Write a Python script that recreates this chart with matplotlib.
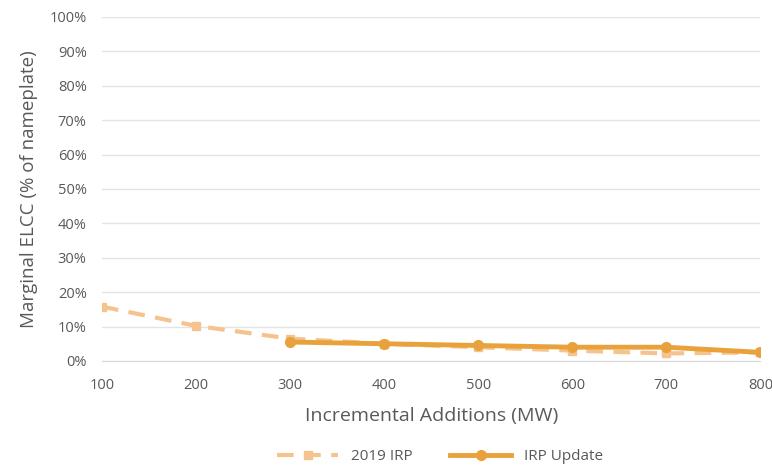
import matplotlib
matplotlib.use("Agg")
import matplotlib.pyplot as plt
from matplotlib.ticker import FuncFormatter

x = [100, 200, 300, 400, 500, 600, 700, 800]
irp2019 = [15.8, 10.2, 6.5, 5.0, 4.0, 3.0, 2.2, 2.5]
update_x = [300, 400, 500, 600, 700, 800]
irp_update = [5.5, 5.0, 4.5, 4.0, 4.0, 2.5]
yticks = list(range(0, 101, 10))

plt.rcParams['font.family'] = ['Open Sans', 'DejaVu Sans']
txt = '#595959'

fig = plt.figure(figsize=(7.72, 4.70), dpi=100)
ax = fig.add_axes([0.132, 0.232, 0.853, 0.732])

ax.plot(x, irp2019, color='#F5C48E', lw=3, ls=(0, (4, 2.5)), marker='s', ms=5.5,
        label='2019 IRP', zorder=3)
ax.plot(update_x, irp_update, color='#E9A23B', lw=3.5, marker='o', ms=7,
        label='IRP Update', zorder=4)

ax.set_xlim(100, 800)
ax.set_ylim(0, 100)
ax.set_yticks(yticks)
ax.set_xticks(x)
ax.yaxis.set_major_formatter(FuncFormatter(lambda v, p: f"{int(v)}%"))
ax.grid(axis='y', color='#E4E4E4', lw=1)
ax.set_axisbelow(True)
for s in ['top', 'right', 'left']:
    ax.spines[s].set_visible(False)
ax.spines['bottom'].set_color('#D9D9D9')
ax.tick_params(axis='both', length=0, colors=txt, labelsize=10.5)
ax.tick_params(axis='x', pad=12)
ax.tick_params(axis='y', pad=11)
ax.set_xlabel('Incremental Additions (MW)', color=txt, fontsize=14, labelpad=10)
ax.set_ylabel('Marginal ELCC (% of nameplate)', color=txt, fontsize=13.5, labelpad=8)

leg = fig.legend(loc='center', bbox_to_anchor=(0.57, 0.028), ncol=2, frameon=False,
                 fontsize=11, handlelength=4, columnspacing=2.5)
for t in leg.get_texts():
    t.set_color(txt)

fig.savefig('out.png', dpi=100)
